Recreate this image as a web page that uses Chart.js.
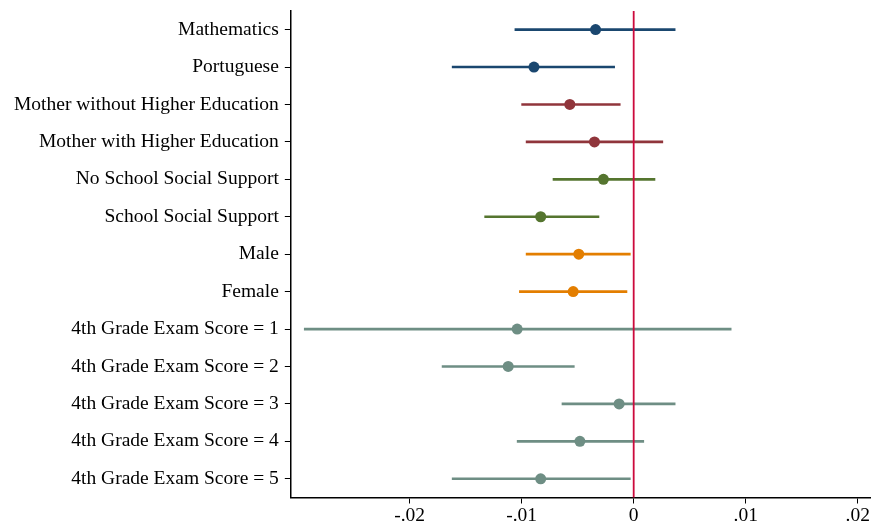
<!DOCTYPE html>
<html>
<head>
<meta charset="utf-8">
<script src="https://cdn.jsdelivr.net/npm/chart.js@4.4.1/dist/chart.umd.min.js"></script>
<style>
  html, body { margin: 0; padding: 0; background: #fff; }
  #wrap { width: 873px; height: 529px; }
</style>
</head>
<body>
<div id="wrap"><canvas id="coefChart" width="873" height="529"></canvas></div>
<script>
// 係数と信頼区間
const categories = [
  'Mathematics',
  'Portuguese',
  'Mother without Higher Education',
  'Mother with Higher Education',
  'No School Social Support',
  'School Social Support',
  'Male',
  'Female',
  '4th Grade Exam Score = 1',
  '4th Grade Exam Score = 2',
  '4th Grade Exam Score = 3',
  '4th Grade Exam Score = 4',
  '4th Grade Exam Score = 5'
];
const estimates = [-0.0034, -0.0089, -0.0057, -0.0035, -0.0027, -0.0083, -0.0049, -0.0054, -0.0104, -0.0112, -0.0013, -0.0048, -0.0083];
const lowerCI   = [-0.0106, -0.0162, -0.0100, -0.0096, -0.0072, -0.0133, -0.0096, -0.0102, -0.0294, -0.0171, -0.0064, -0.0104, -0.0162];
const upperCI   = [0.0037, -0.0017, -0.0012, 0.0026, 0.0019, -0.0031, -0.0003, -0.0006, 0.0087, -0.0053, 0.0037, 0.0009, -0.0003];
const xTicks = [-0.02, -0.01, 0, 0.01, 0.02];
const xTickLabels = ['-.02', '-.01', '0', '.01', '.02'];
const refValue = 0;

// グループごとの色
const groupColors = [
  '#1a476f', '#1a476f',
  '#90353b', '#90353b',
  '#55752f', '#55752f',
  '#e37e00', '#e37e00',
  '#6e8e84', '#6e8e84', '#6e8e84', '#6e8e84', '#6e8e84'
];

const serif = "'Liberation Serif', 'Times New Roman', serif";

// 0 の基準線
const refLinePlugin = {
  id: 'refLine',
  afterDatasetsDraw(chart) {
    const { ctx, chartArea, scales } = chart;
    const x = scales.x.getPixelForValue(refValue);
    ctx.save();
    ctx.strokeStyle = '#cc0a3c';
    ctx.lineWidth = 1.8;
    ctx.beginPath();
    ctx.moveTo(x, chartArea.top);
    ctx.lineTo(x, chartArea.bottom);
    ctx.stroke();
    ctx.restore();
  }
};

new Chart(document.getElementById('coefChart'), {
  type: 'bar',
  data: {
    labels: categories,
    datasets: [
      {
        type: 'line',
        indexAxis: 'y',
        data: estimates,
        showLine: false,
        pointRadius: 5.5,
        pointBorderWidth: 0,
        pointBackgroundColor: groupColors,
        pointBorderColor: groupColors,
        order: 0
      },
      {
        type: 'bar',
        indexAxis: 'y',
        data: lowerCI.map((lo, i) => [lo, upperCI[i]]),
        backgroundColor: groupColors,
        barThickness: 2,
        borderWidth: 0,
        order: 1
      }
    ]
  },
  options: {
    indexAxis: 'y',
    responsive: false,
    animation: false,
    layout: { autoPadding: false, padding: { left: 8, right: 1.5, top: 8.5, bottom: 0 } },
    plugins: {
      legend: { display: false },
      tooltip: { enabled: false }
    },
    scales: {
      x: {
        type: 'linear',
        min: -0.0306,
        max: 0.0211,
        afterBuildTicks(axis) {
          axis.ticks = xTicks.map(v => ({ value: v }));
        },
        ticks: {
          color: '#000',
          font: { family: serif, size: 19.5, lineHeight: 1 },
          padding: 3,
          maxRotation: 0,
          callback: (v) => xTickLabels[xTicks.indexOf(v)]
        },
        grid: {
          drawOnChartArea: false,
          drawTicks: true,
          tickLength: 6,
          color: '#000'
        },
        border: { display: true, color: '#000', width: 1.5 }
      },
      y: {
        type: 'category',
        offset: true,
        ticks: {
          color: '#000',
          font: { family: serif, size: 19.5, lineHeight: 0.5 },
          padding: 6
        },
        grid: {
          offset: false,
          drawOnChartArea: false,
          drawTicks: true,
          tickLength: 6,
          color: '#000'
        },
        border: { display: true, color: '#000', width: 1.5 }
      }
    }
  },
  plugins: [refLinePlugin]
});
</script>
</body>
</html>
